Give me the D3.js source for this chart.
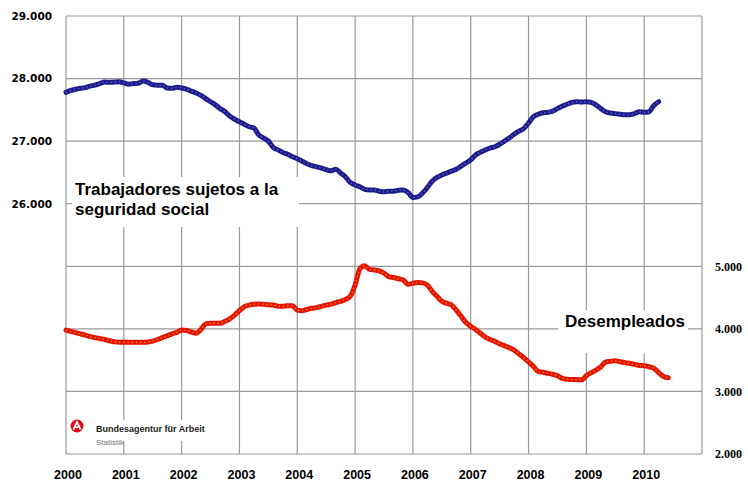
<!DOCTYPE html>
<html>
<head>
<meta charset="utf-8">
<script src="https://cdn.jsdelivr.net/npm/d3@7"></script>
<style>
  body { margin: 0; background: #fff; }
</style>
</head>
<body>
<div id="chart"></div>
<script>
// years shown on the x axis
const years = [2000, 2001, 2002, 2003, 2004, 2005, 2006, 2007, 2008, 2009, 2010];
const leftTicks = [26000, 27000, 28000, 29000];
const rightTicks = [2000, 3000, 4000, 5000];

// Trabajadores sujetos a la seguridad social (miles), monthly from Jan 2000
const employed = [
  27780, 27810, 27830, 27845, 27855, 27880, 27895, 27920, 27945, 27940, 27945, 27950,
  27930, 27910, 27920, 27925, 27960, 27940, 27900, 27895, 27895, 27850, 27845, 27860,
  27850, 27830, 27800, 27770, 27730, 27680, 27630, 27580, 27520, 27470, 27400, 27350,
  27310, 27270, 27230, 27210, 27100, 27050, 27000, 26900, 26860, 26820, 26790, 26750,
  26720, 26680, 26640, 26610, 26590, 26570, 26545, 26525, 26550, 26490, 26430, 26340,
  26300, 26270, 26230, 26220, 26220, 26200, 26190, 26200, 26200, 26215, 26220, 26180,
  26100, 26110, 26170, 26260, 26360, 26420, 26460, 26490, 26520, 26550, 26600, 26650,
  26700, 26780, 26820, 26860, 26890, 26910, 26950, 27000, 27050, 27110, 27160, 27200,
  27290, 27390, 27430, 27454, 27460, 27480, 27520, 27560, 27590, 27620, 27630, 27625,
  27630, 27620, 27580, 27520, 27470, 27450, 27440, 27430, 27420, 27420, 27440, 27470,
  27460, 27470, 27570, 27630
];

// Desempleados (miles), monthly from Jan 2000
const unemployed = [
  3980, 3960, 3940, 3920, 3900, 3875, 3860, 3845, 3830, 3810, 3795, 3785,
  3785, 3785, 3785, 3785, 3785, 3790, 3805, 3830, 3860, 3890, 3920, 3945,
  3980, 3975, 3950, 3930, 3990, 4080, 4090, 4090, 4090, 4120, 4160, 4220,
  4290, 4355, 4380, 4395, 4398, 4395, 4385, 4380, 4360, 4360, 4370, 4370,
  4300, 4290, 4310, 4329, 4340, 4360, 4380, 4395, 4420, 4440, 4470, 4520,
  4700, 4960, 5010, 4950, 4940, 4926, 4890, 4835, 4820, 4800, 4782, 4710,
  4730, 4740, 4735, 4700, 4600, 4520, 4440, 4409, 4380, 4300, 4200, 4100,
  4040, 3990, 3930, 3870, 3830, 3800, 3760, 3730, 3700, 3660, 3600, 3540,
  3470, 3400, 3320, 3306, 3290, 3274, 3250, 3210, 3195, 3190, 3190, 3185,
  3250, 3300, 3340, 3390, 3470, 3480, 3490, 3475, 3460, 3450, 3430, 3415,
  3410, 3395, 3370, 3300, 3240, 3220
];

const width = 748, height = 484;
const plotLeft = 66, plotRight = 702, plotTop = 16, plotBottom = 454;

const svg = d3.select("#chart").append("svg")
  .attr("width", width)
  .attr("height", height)
  .style("background", "#fff");

const x = d3.scaleLinear().domain([2000, 2011]).range([plotLeft, plotRight]);
const yL = d3.scaleLinear().domain([22000, 29000]).range([plotBottom, plotTop]);
const yR = d3.scaleLinear().domain([2000, 9000]).range([plotBottom, plotTop]);

const fmt = d3.formatLocale({ decimal: ",", thousands: ".", grouping: [3], currency: ["", "€"] }).format(",");

// grid
const grid = svg.append("g").attr("stroke", "#9a9a9a").attr("stroke-width", 1.2);
grid.selectAll("line.h")
  .data(d3.range(22000, 29001, 1000))
  .join("line")
  .attr("class", "h")
  .attr("x1", plotLeft).attr("x2", plotRight)
  .attr("y1", d => yL(d)).attr("y2", d => yL(d));
grid.selectAll("line.v")
  .data(years.concat([2011]))
  .join("line")
  .attr("class", "v")
  .attr("x1", d => x(d)).attr("x2", d => x(d))
  .attr("y1", plotTop).attr("y2", plotBottom);

// white boxes behind labels / logo
const boxes = [
  { x0: 72, x1: 299, y0: 177, y1: 227 },
  { x0: 558, x1: 688, y0: 310, y1: 353 },
  { x0: 68, x1: 206, y0: 420, y1: 441 }
];
svg.selectAll("rect.box")
  .data(boxes)
  .join("rect")
  .attr("class", "box")
  .attr("x", d => d.x0).attr("y", d => d.y0)
  .attr("width", d => d.x1 - d.x0).attr("height", d => d.y1 - d.y0)
  .attr("fill", "#fff");

// axes
const axisLeft = svg.append("g")
  .attr("transform", `translate(${plotLeft},0)`)
  .call(d3.axisLeft(yL).tickValues(leftTicks).tickSize(0).tickPadding(14).tickFormat(fmt));
axisLeft.select(".domain").remove();
axisLeft.selectAll("text")
  .style("font", "bold 10.5px 'DejaVu Sans'")
  .attr("fill", "#000");

const axisRight = svg.append("g")
  .attr("transform", `translate(${plotRight},0)`)
  .call(d3.axisRight(yR).tickValues(rightTicks).tickSize(0).tickPadding(13).tickFormat(fmt));
axisRight.select(".domain").remove();
axisRight.selectAll("text")
  .style("font", "bold 12px 'Liberation Serif'")
  .attr("fill", "#000");

const axisBottom = svg.append("g")
  .attr("transform", `translate(1.5,${plotBottom})`)
  .call(d3.axisBottom(x).tickValues(years).tickSize(0).tickPadding(16).tickFormat(d3.format("d")));
axisBottom.select(".domain").remove();
axisBottom.selectAll("text")
  .style("font", "bold 12.5px 'Liberation Sans'")
  .attr("fill", "#000");

// series
const t = i => 2000 + i / 12;
const lineL = d3.line().x((d, i) => x(t(i))).y(d => yL(d)).curve(d3.curveMonotoneX);
const lineR = d3.line().x((d, i) => x(t(i))).y(d => yR(d)).curve(d3.curveMonotoneX);

svg.append("path").datum(employed)
  .attr("fill", "none").attr("stroke", "#1c1c8c").attr("stroke-width", 5)
  .attr("stroke-linejoin", "round").attr("stroke-linecap", "round")
  .attr("d", lineL);
svg.append("path").datum(employed)
  .attr("fill", "none").attr("stroke", "#7070d0").attr("stroke-width", 1.3)
  .attr("stroke-dasharray", "1.2,3")
  .attr("d", lineL);

svg.append("path").datum(unemployed)
  .attr("fill", "none").attr("stroke", "#e41400").attr("stroke-width", 5)
  .attr("stroke-linejoin", "round").attr("stroke-linecap", "round")
  .attr("d", lineR);
svg.append("path").datum(unemployed)
  .attr("fill", "none").attr("stroke", "#f5a020").attr("stroke-width", 1.3)
  .attr("stroke-dasharray", "1.2,3")
  .attr("d", lineR);

// labels
const lbl = svg.append("g").style("font", "bold 17px 'Liberation Sans'").attr("fill", "#000");
lbl.append("text").attr("x", 75).attr("y", 195).text("Trabajadores sujetos a la");
lbl.append("text").attr("x", 75).attr("y", 215).text("seguridad social");
lbl.append("text").attr("x", 565).attr("y", 327).text("Desempleados");

// logo
const logo = svg.append("g").attr("transform", "translate(77,426)");
logo.append("circle").attr("r", 6.5).attr("fill", "#e30613");
logo.append("path")
  .attr("d", "M-3.6,3.6 L0,-4 L3.6,3.6 M-1.6,1.2 L2.4,1.2")
  .attr("fill", "none").attr("stroke", "#fff").attr("stroke-width", 1.8);
svg.append("text").attr("x", 96).attr("y", 432)
  .style("font", "bold 9px 'Liberation Sans'").attr("fill", "#222")
  .text("Bundesagentur für Arbeit");
svg.append("text").attr("x", 96).attr("y", 445)
  .style("font", "8px 'Liberation Sans'").attr("fill", "#777")
  .text("Statistik");
</script>
</body>
</html>
